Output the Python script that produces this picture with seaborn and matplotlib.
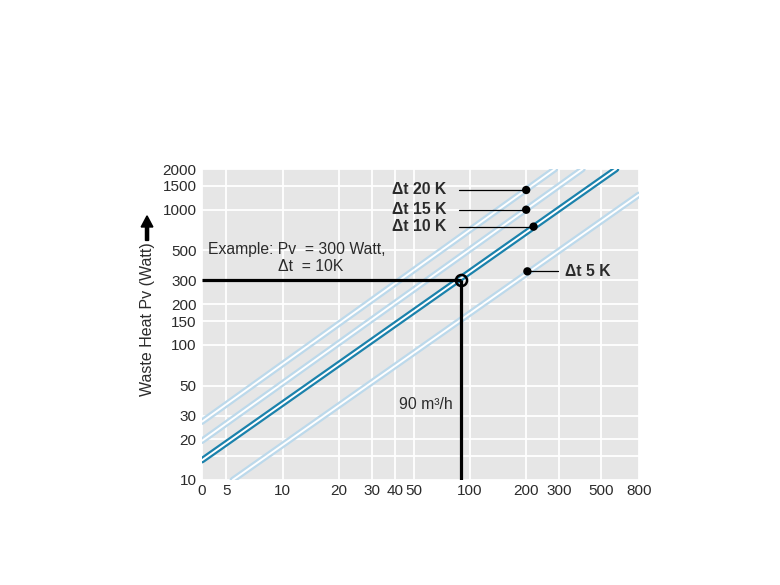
import matplotlib
matplotlib.use("Agg")
import matplotlib.pyplot as plt
import seaborn as sns
from matplotlib.ticker import FixedLocator, FixedFormatter, NullLocator

# =====================================================
# Data
# =====================================================

# end points of each temperature-difference line (airflow m3/h, waste heat W)
flow_dt20 = [3.7, 285]
heat_dt20 = [27, 2000]

flow_dt15 = [3.7, 400]
heat_dt15 = [19.5, 2000]

flow_dt10 = [3.7, 605]
heat_dt10 = [14, 2000]

flow_dt5 = [5.4, 800]
heat_dt5 = [10, 1290]

series_labels = ["\u0394t 20 K", "\u0394t 15 K", "\u0394t 10 K", "\u0394t 5 K"]

# dots where the labels point at the lines
marker_flow = [200, 200, 219, 203]
marker_heat = [1400, 1000, 750, 350]

# worked example
example_flow = 90
example_heat = 300

x_ticks = [3.7, 5, 10, 20, 30, 40, 50, 100, 200, 300, 500, 800]
x_tick_labels = ["0", "5", "10", "20", "30", "40", "50", "100", "200", "300", "500", "800"]
y_ticks = [10, 15, 20, 30, 50, 100, 150, 200, 300, 500, 1000, 1500, 2000]
y_tick_labels = ["10", "", "20", "30", "50", "100", "150", "200", "300", "500", "1000", "1500", "2000"]

# =====================================================
# Style
# =====================================================

sns.set_theme(style="darkgrid")
plt.rcParams["font.family"] = ["Liberation Sans", "DejaVu Sans"]

DARK_BLUE = "#1b82ac"
LIGHT_BLUE = "#bcd9eb"
BG = "#e6e6e6"
TEXT = "#2b2b2b"

fig = plt.figure(figsize=(7.8, 5.85), dpi=100)
ax = fig.add_axes([0.259, 0.1795, 0.56, 0.5315])
ax.set_facecolor(BG)

# =====================================================
# Lines (double lines: coloured stroke with white core)
# =====================================================

lines = [
    (flow_dt20, heat_dt20, LIGHT_BLUE),
    (flow_dt15, heat_dt15, LIGHT_BLUE),
    (flow_dt10, heat_dt10, DARK_BLUE),
    (flow_dt5, heat_dt5, LIGHT_BLUE),
]

for flow, heat, color in lines:
    sns.lineplot(x=flow, y=heat, ax=ax, color=color, lw=4.6, sort=False, zorder=3)
    sns.lineplot(x=flow, y=heat, ax=ax, color="white", lw=1.4, sort=False, zorder=4)

# =====================================================
# Example guide lines
# =====================================================

ax.plot([3.7, example_flow], [example_heat, example_heat], color="black", lw=2.3, zorder=5,
        solid_capstyle="butt")
ax.plot([example_flow, example_flow], [example_heat, 10], color="black", lw=2.3, zorder=5,
        solid_capstyle="butt")
ax.plot(example_flow, example_heat, marker="o", ms=8, mfc="none", mec="black", mew=1.8, zorder=6)

# =====================================================
# Labels with leader lines
# =====================================================

leader_start = [87, 87, 87, 297]
label_x = [75, 75, 75, 322]
label_ha = ["right", "right", "right", "left"]

for i in range(4):
    ax.plot([leader_start[i], marker_flow[i]], [marker_heat[i], marker_heat[i]],
            color="black", lw=0.9, zorder=6)
    sns.scatterplot(x=[marker_flow[i]], y=[marker_heat[i]], ax=ax, color="black", s=36,
                    edgecolor="none", zorder=7)
    ax.text(label_x[i], marker_heat[i], series_labels[i], ha=label_ha[i], va="center",
            fontsize=11.3, fontweight="bold", color=TEXT)

ax.text(4.0, 510, "Example: Pv  = 300 Watt,", ha="left", va="center", fontsize=11.3, color=TEXT)
ax.text(9.4, 380, "\u0394t  = 10K", ha="left", va="center", fontsize=11.3, color=TEXT)
ax.text(42, 36.5, "90 m\u00b3/h", ha="left", va="center", fontsize=11.3, color=TEXT)

# =====================================================
# Axes
# =====================================================

ax.set_xscale("log")
ax.set_yscale("log")
ax.set_xlim(3.7, 800)
ax.set_ylim(10, 2000)

ax.xaxis.set_major_locator(FixedLocator(x_ticks))
ax.xaxis.set_major_formatter(FixedFormatter(x_tick_labels))
ax.xaxis.set_minor_locator(NullLocator())
ax.yaxis.set_major_locator(FixedLocator(y_ticks))
ax.yaxis.set_major_formatter(FixedFormatter(y_tick_labels))
ax.yaxis.set_minor_locator(NullLocator())

ax.grid(True, which="major", color="white", lw=1.3)
ax.tick_params(axis="both", length=0, labelsize=11, labelcolor=TEXT)
ax.tick_params(axis="x", pad=3)
ax.tick_params(axis="y", pad=4)
for s in ax.spines.values():
    s.set_visible(False)

ax.set_xlabel("")
ax.set_ylabel("")

fig.text(0.1885, 0.4547, "Waste Heat Pv (Watt)", rotation=90, ha="center", va="center",
         fontsize=11.5, color=TEXT)
fig.patches.append(matplotlib.patches.FancyArrow(
    0.1885, 0.589, 0, 0.042, width=0.004, head_width=0.015, head_length=0.019,
    length_includes_head=True, color="black", transform=fig.transFigure, figure=fig))

fig.savefig("out.png", dpi=100, facecolor="white")
